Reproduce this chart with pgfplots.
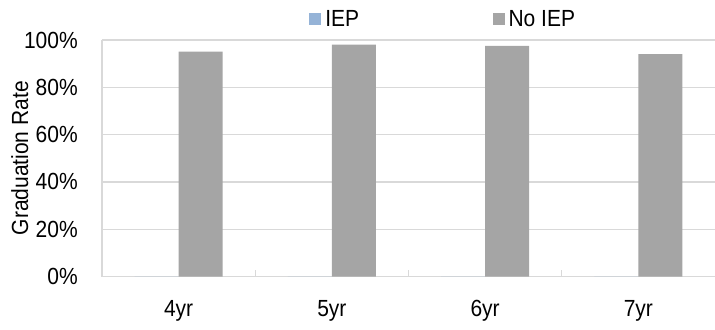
\documentclass[border=0pt]{standalone}
\usepackage{fontspec}
\setmainfont{Liberation Sans}[FakeStretch=0.9]
\usepackage{pgfplots}
\pgfplotsset{compat=1.18}

\definecolor{iepblue}{HTML}{95B3D7}
\definecolor{noiepgray}{HTML}{A5A5A5}
\definecolor{gridgray}{HTML}{D9D9D9}

\begin{document}
\begin{tikzpicture}[font=\fontsize{17.5}{20}\selectfont]
\begin{axis}[
    scale only axis,
    width=459.75pt, height=177.4pt,
    ybar=0pt, bar width=33pt,
    ymin=0, ymax=100,
    xmin=-0.5, xmax=3.5,
    xtick={0,1,2,3},
    xticklabels={4yr,5yr,6yr,7yr},
    minor xtick={0.5,1.5,2.5},
    ytick={0,20,40,60,80,100},
    yticklabels={0\%,20\%,40\%,60\%,80\%,100\%},
    major tick length=0pt,
    minor tick length=5pt,
    tick align=inside,
    minor tick style={gridgray, line width=1pt},
    axis lines*=left,
    axis line style={gridgray, line width=1pt},
    ymajorgrids=true,
    major grid style={gridgray, line width=1pt},
    yticklabel style={anchor=east, inner sep=0pt, xshift=-18pt},
    xticklabel style={anchor=base, inner sep=0pt, yshift=-30pt},
    ylabel={Graduation Rate},
    ylabel style={at={(axis description cs:-0.134,0.5)}, anchor=center},
    legend columns=-1,
    legend style={draw=none, fill=none, at={(axis description cs:0.555,1)},
      anchor=center, yshift=16pt,
      /tikz/every even column/.append style={column sep=100pt},
      nodes={inner sep=0pt, text depth=0pt}},
    legend image code/.code={\draw[#1,draw=none] (0pt,-4.5pt) rectangle (9pt,4.5pt);},
    legend style={/tikz/every odd column/.append style={column sep=3pt}},
]
\addplot[fill=iepblue, draw=none] coordinates {(0,0) (1,0) (2,0) (3,0)};
\addplot[fill=noiepgray, draw=none] coordinates {(0,95.1) (1,98.0) (2,97.5) (3,94.0)};
\legend{IEP, No IEP}
\end{axis}
\pgfresetboundingbox
\useasboundingbox (-76.5pt,-39.4pt) rectangle (459.75pt,207.4pt);
\end{tikzpicture}
\end{document}
